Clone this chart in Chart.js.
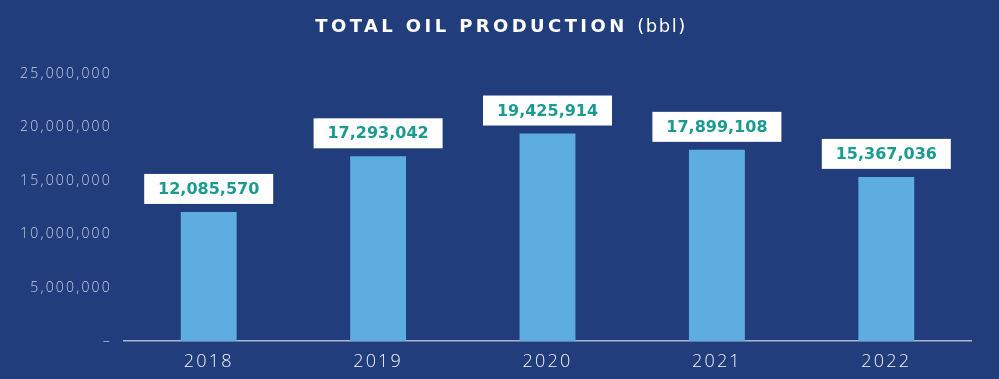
<!DOCTYPE html>
<html>
<head>
<meta charset="utf-8">
<script src="https://cdn.jsdelivr.net/npm/chart.js@4.4.1/dist/chart.umd.min.js"></script>
<style>
  html, body { margin: 0; padding: 0; background: #213d7c; }
  #wrap { width: 999px; height: 379px; }
</style>
</head>
<body>
<div id="wrap"><canvas id="graph" width="999" height="379"></canvas></div>
<script>
const years = ['2018', '2019', '2020', '2021', '2022'];
const production = [12085570, 17293042, 19425914, 17899108, 15367036];
const yTicks = [0, 5000000, 10000000, 15000000, 20000000, 25000000];

const fmt = (v) => v.toLocaleString('en-US');

// background + two-weight title
const frame = {
    id: 'frame',
    beforeDraw(chart) {
        const ctx = chart.ctx;
        ctx.save();
        ctx.fillStyle = '#213d7c';
        ctx.fillRect(0, 0, chart.width, chart.height);
        const bold = 'TOTAL OIL PRODUCTION ';
        const thin = '(bbl)';
        ctx.letterSpacing = '3.4px';
        ctx.font = 'bold 18px "DejaVu Sans"';
        const w1 = ctx.measureText(bold).width;
        ctx.letterSpacing = '1.5px';
        ctx.font = '18px "DejaVu Sans"';
        const w2 = ctx.measureText(thin).width;
        let x = 501 - (w1 + w2) / 2;
        ctx.fillStyle = '#ffffff';
        ctx.textBaseline = 'middle';
        ctx.letterSpacing = '3.4px';
        ctx.font = 'bold 18px "DejaVu Sans"';
        ctx.fillText(bold, x, 27);
        ctx.letterSpacing = '1.5px';
        ctx.font = '18px "DejaVu Sans"';
        ctx.fillText(thin, x + w1, 27);
        ctx.restore();
        // wide tracking for the axis labels drawn next
        ctx.letterSpacing = '2.2px';
    }
};

// white value boxes above each bar
const valueBoxes = {
    id: 'valueBoxes',
    afterDatasetsDraw(chart) {
        const ctx = chart.ctx;
        const meta = chart.getDatasetMeta(0);
        ctx.save();
        ctx.font = 'bold 16px "DejaVu Sans"';
        ctx.letterSpacing = '0px';
        ctx.textAlign = 'center';
        ctx.textBaseline = 'middle';
        meta.data.forEach((bar, i) => {
            const boxW = 129, boxH = 30;
            const bx = bar.x - boxW / 2;
            const by = bar.y - 8 - boxH;
            ctx.fillStyle = '#ffffff';
            ctx.fillRect(bx, by, boxW, boxH);
            ctx.fillStyle = '#1b9a8f';
            ctx.fillText(fmt(production[i]), bar.x, by + boxH / 2 + 1);
        });
        ctx.restore();
    }
};

new Chart(document.getElementById('graph'), {
    type: 'bar',
    data: {
        labels: years,
        datasets: [{
            data: production,
            backgroundColor: '#5dade0',
            barPercentage: 0.33,
            categoryPercentage: 1
        }]
    },
    options: {
        responsive: false,
        animation: false,
        layout: { padding: { top: 74, right: 28, left: 14, bottom: 4 } },
        plugins: { legend: { display: false }, tooltip: { enabled: false } },
        scales: {
            x: {
                grid: { display: false },
                border: { display: true, color: '#a9b7d6', width: 1.5 },
                afterFit: (scale) => { scale.height = 34; },
                ticks: { color: '#f2f4fa', font: { family: 'Open Sans', size: 18, weight: '300' }, padding: 2 }
            },
            y: {
                min: 0,
                max: 25000000,
                afterBuildTicks: (scale) => { scale.ticks = yTicks.map(v => ({ value: v })); },
                afterFit: (scale) => { scale.width = 110; },
                grid: { display: false },
                border: { display: false },
                ticks: {
                    color: '#c8d0e8',
                    padding: 4,
                    font: { family: 'Open Sans', size: 14, weight: '300' },
                    callback: (v) => v === 0 ? '–' : fmt(v)
                }
            }
        }
    },
    plugins: [frame, valueBoxes]
});
</script>
</body>
</html>
